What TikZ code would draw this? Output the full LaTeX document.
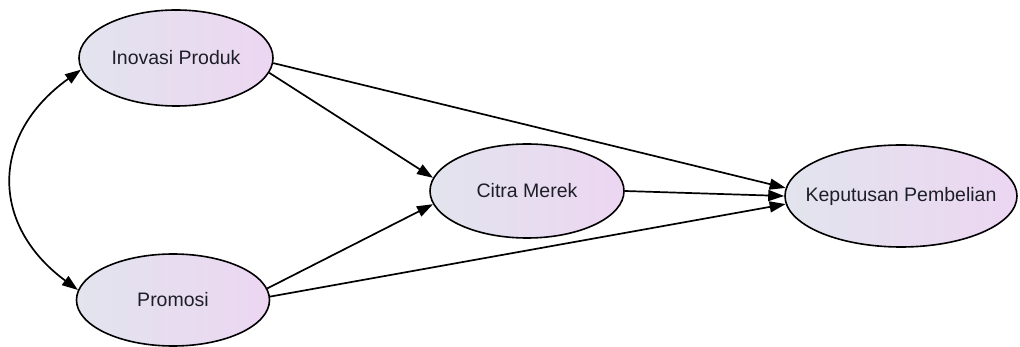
\documentclass[tikz,border=0pt]{standalone}
\usepackage{fontspec}
\setmainfont{Liberation Sans}
\usetikzlibrary{shapes.geometric,arrows.meta}
\definecolor{fillL}{RGB}{226,228,238}
\definecolor{fillR}{RGB}{236,214,241}
\definecolor{txt}{RGB}{30,30,40}
% zero-width label box so the ellipse keeps its given size
\newcommand{\lbl}[1]{\makebox[0pt][c]{#1}}
\begin{document}
\begin{tikzpicture}[x=1pt,y=-1pt,
  construct/.style={ellipse,draw=black,line width=1.6pt,inner sep=0pt,
    left color=fillL,right color=fillR,text=txt,font=\fontsize{19.5}{22}\selectfont},
  tip/.tip={Triangle[length=16pt,width=11pt]},
  path/.style={line width=1.7pt,-tip}]
  \useasboundingbox (0,0) rectangle (1020,347);
  \node[construct,minimum width=194pt,minimum height=96pt] (ino) at (176,58) {\lbl{Inovasi Produk}};
  \node[construct,minimum width=193pt,minimum height=92pt] (pro) at (173,300) {\lbl{Promosi}};
  \node[construct,minimum width=194pt,minimum height=94pt] (cit) at (527,191) {\lbl{Citra Merek}};
  \node[construct,minimum width=232pt,minimum height=102pt] (kep) at (901,196) {\lbl{Keputusan Pembelian}};
  \draw[path] (ino.-9) -- (cit.172);
  \draw[path] (ino.-3) -- (kep.176);
  \draw[path] (cit.east) -- (kep.west);
  \draw[path] (pro.7) -- (cit.188);
  \draw[path] (pro.2) -- (kep.184);
  \draw[line width=1.7pt,tip-tip]
    (ino.187) .. controls (-10,135) and (-10,225) .. (pro.174);
\end{tikzpicture}
\end{document}
